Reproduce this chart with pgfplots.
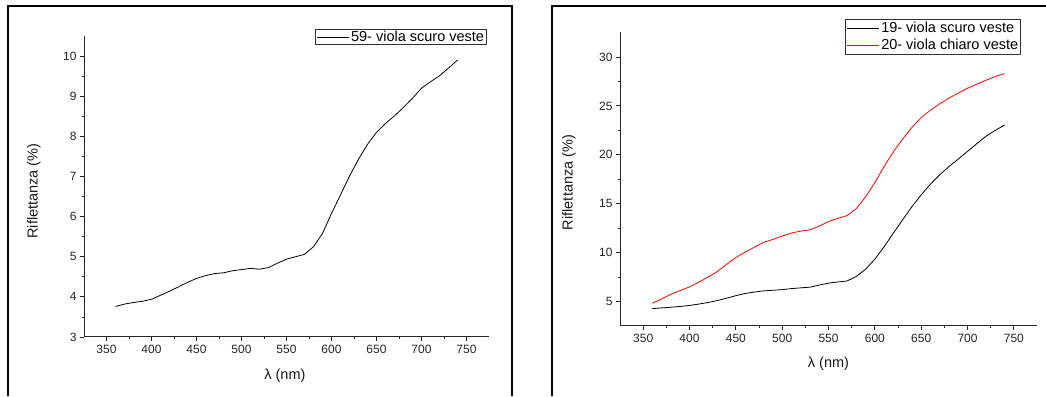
\documentclass[border=0pt]{standalone}
\usepackage{fontspec}
\setmainfont{Liberation Sans}
\usepackage{pgfplots}
\pgfplotsset{compat=1.18}

% Reflectance spectra, sample 59
\pgfplotstableread{
x y
360 3.76
370 3.82
380 3.86
390 3.89
400 3.94
410 4.04
420 4.14
430 4.25
440 4.36
450 4.46
460 4.53
470 4.58
480 4.60
490 4.65
500 4.68
510 4.71
520 4.69
530 4.73
540 4.84
550 4.94
560 5.00
570 5.06
580 5.25
590 5.58
600 6.08
610 6.54
620 7.01
630 7.43
640 7.80
650 8.10
660 8.32
670 8.51
680 8.72
690 8.95
700 9.20
710 9.36
720 9.51
730 9.70
740 9.90
}\tabA

% Reflectance spectra, samples 19 and 20
\pgfplotstableread{
x scuro chiaro
360 4.28 4.83
370 4.35 5.27
380 4.42 5.75
390 4.50 6.12
400 4.60 6.50
410 4.74 6.98
420 4.90 7.50
430 5.10 8.07
440 5.34 8.80
450 5.60 9.50
460 5.82 10.05
470 5.97 10.55
480 6.09 11.05
490 6.15 11.35
500 6.22 11.70
510 6.32 12.00
520 6.40 12.20
530 6.47 12.33
540 6.68 12.70
550 6.88 13.18
560 7.00 13.50
570 7.10 13.78
580 7.56 14.50
590 8.30 15.70
600 9.33 17.15
610 10.60 18.80
620 12.00 20.30
630 13.36 21.60
640 14.70 22.80
650 15.90 23.80
660 17.00 24.55
670 17.96 25.20
680 18.80 25.80
690 19.56 26.30
700 20.35 26.80
710 21.13 27.22
720 21.90 27.62
730 22.50 28.00
740 23.04 28.30
}\tabB

\pgfplotsset{
  spectrum/.style={
    scale only axis,
    xmin=325, xmax=775,
    axis lines*=left,
    xtick={350,400,...,750},
    minor x tick num=1,
    minor y tick num=1,
    tick align=outside,
    major tick length=4pt,
    minor tick length=2.5pt,
    axis line style={line width=1pt, black!85},
    every tick/.style={line width=0.8pt, black!85},
    /pgf/number format/assume math mode=true,
    ticklabel style={font=\fontsize{12}{13}\selectfont, black!85},
    xticklabel style={yshift=-1pt},
    label style={font=\fontsize{14.5}{16}\selectfont, black!90},
    xlabel={λ (nm)},
    ylabel={Riflettanza (\%)},
    legend cell align=left,
    legend image code/.code={\draw[line width=0.9pt, #1] (0pt,0pt) -- (32pt,0pt);},
    legend style={draw=black!80, line width=0.8pt, font=\fontsize{14.5}{16}\selectfont,
      inner xsep=1pt, inner ysep=0pt, row sep=-2pt,
      nodes={inner sep=1.5pt}},
  },
}

\begin{document}
\begin{tikzpicture}[x=1pt, y=1pt]
\useasboundingbox (0,0) rectangle (1046,396);
\fill[white] (0,0) rectangle (1046,396);

% panel frames
\draw[line width=2.3pt] (8,0) -- (8,390) -- (512,390) -- (512,0);
\draw[line width=2.3pt] (552,0) -- (552,390) -- (1046,390);

\begin{axis}[spectrum,
  at={(84pt,59pt)}, anchor=south west,
  width=405pt, height=301pt,
  ymin=3, ymax=10.5,
  ytick={3,4,...,10},
  xlabel style={at={(axis description cs:0.496,-0.13)}, anchor=center},
  ylabel style={at={(axis description cs:-0.1235,0.485)}, anchor=center},
  legend style={at={(axis description cs:0.995,1.023)}, anchor=north east},
]
\addplot[black, line width=0.8pt] table[x=x, y=y] {\tabA};
\addlegendentry{59- viola scuro veste}
\end{axis}

\begin{axis}[spectrum,
  at={(620pt,70pt)}, anchor=south west,
  width=417pt, height=293.5pt,
  ymin=2.5, ymax=32.5,
  ytick={5,10,...,30},
  xlabel style={at={(axis description cs:0.5,-0.127)}, anchor=center},
  ylabel style={at={(axis description cs:-0.1224,0.489)}, anchor=center},
  legend style={at={(axis description cs:0.962,1.046)}, anchor=north east,
    inner ysep=1.5pt, row sep=2pt},
]
\addplot[color=black, line width=0.8pt] table[x=x, y=scuro] {\tabB};
\addlegendentry{19- viola scuro veste}
\addplot[color=red, line width=0.8pt] table[x=x, y=chiaro] {\tabB};
\addlegendentry{20- viola chiaro veste}
\end{axis}
\end{tikzpicture}
\end{document}
